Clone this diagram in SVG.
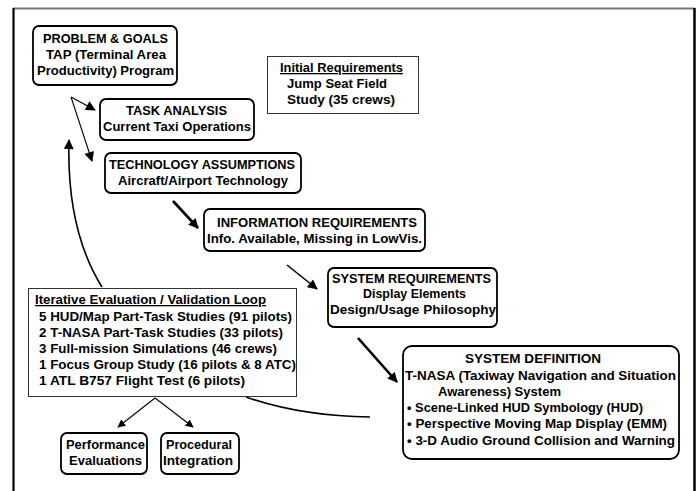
<svg xmlns="http://www.w3.org/2000/svg" width="698" height="491" viewBox="0 0 698 491">
<style>
text{font-family:"Liberation Sans",Arial,sans-serif;font-weight:bold;font-size:13px;fill:#000}
.rb{fill:#fff;stroke:#000;stroke-width:1.8}
.sb{fill:#fff;stroke:#333;stroke-width:1}
.thin{fill:none;stroke:#000;stroke-width:1.1}
.thick{fill:none;stroke:#000;stroke-width:2.6}
.mid{fill:none;stroke:#000;stroke-width:1.6}
</style>
<defs>
<marker id="ah" viewBox="0 0 10 10" refX="9" refY="5" markerWidth="11" markerHeight="10" markerUnits="userSpaceOnUse" orient="auto"><path d="M0,0 L10,5 L0,10 z" fill="#000"/></marker>
<marker id="ahs" viewBox="0 0 10 10" refX="9" refY="5" markerWidth="8" markerHeight="8" markerUnits="userSpaceOnUse" orient="auto"><path d="M0,0 L10,5 L0,10 z" fill="#000"/></marker>
</defs>
<rect width="698" height="491" fill="#fff"/>
<g id="frame">
<line x1="13" y1="8.5" x2="695" y2="8.5" stroke="#777" stroke-width="2"/>
<line x1="13.5" y1="8" x2="13.5" y2="491" stroke="#000" stroke-width="2.2"/>
<line x1="694.5" y1="8" x2="694.5" y2="491" stroke="#000" stroke-width="2.5"/>
</g>
<g id="connectors">
<path class="thin" d="M71,97 L95,110" marker-end="url(#ah)"/>
<path class="thin" d="M71,97 L92,161" marker-end="url(#ah)"/>
<path class="thick" d="M173,201 L198,228" marker-end="url(#ah)"/>
<path class="mid" d="M287,265 L317,289" marker-end="url(#ah)"/>
<path class="thick" d="M358,338 L397,382" marker-end="url(#ah)"/>
<path class="mid" d="M102,287 C82,255 67,210 69,140" marker-end="url(#ah)"/>
<path class="mid" d="M246,397 Q300,416 370,417"/>
<path class="thin" d="M155,398 L118,427" marker-end="url(#ahs)"/>
<path class="thin" d="M155,398 L193,427" marker-end="url(#ahs)"/>
</g>
<g id="problem">
<rect class="rb" x="33" y="26" width="144" height="59" rx="6"/>
<text x="43" y="43" textLength="125" lengthAdjust="spacingAndGlyphs">PROBLEM &amp; GOALS</text>
<text x="46" y="59" textLength="120" lengthAdjust="spacingAndGlyphs">TAP (Terminal Area</text>
<text x="37" y="75" textLength="137" lengthAdjust="spacingAndGlyphs">Productivity) Program</text>
</g>
<g id="initial">
<rect class="sb" x="267.5" y="56.5" width="151" height="57"/>
<text x="280" y="72" textLength="123" lengthAdjust="spacingAndGlyphs" text-decoration="underline">Initial Requirements</text>
<text x="287" y="88" textLength="100" lengthAdjust="spacingAndGlyphs">Jump Seat Field</text>
<text x="287" y="104" textLength="108" lengthAdjust="spacingAndGlyphs">Study (35 crews)</text>
</g>
<g id="task">
<rect class="rb" x="100" y="99" width="154" height="41" rx="6"/>
<text x="126" y="115" textLength="101" lengthAdjust="spacingAndGlyphs">TASK ANALYSIS</text>
<text x="103" y="131" textLength="148" lengthAdjust="spacingAndGlyphs">Current Taxi Operations</text>
</g>
<g id="tech">
<rect class="rb" x="105" y="153" width="196" height="40" rx="6"/>
<text x="109" y="169" textLength="186" lengthAdjust="spacingAndGlyphs">TECHNOLOGY ASSUMPTIONS</text>
<text x="118" y="185" textLength="170" lengthAdjust="spacingAndGlyphs">Aircraft/Airport Technology</text>
</g>
<g id="info">
<rect class="rb" x="204" y="209" width="221" height="42" rx="6"/>
<text x="217" y="227" textLength="200" lengthAdjust="spacingAndGlyphs">INFORMATION REQUIREMENTS</text>
<text x="207" y="243" textLength="215" lengthAdjust="spacingAndGlyphs">Info. Available, Missing in LowVis.</text>
</g>
<g id="sysreq">
<rect class="rb" x="328" y="268" width="169" height="59" rx="6"/>
<text x="332" y="283" textLength="159" lengthAdjust="spacingAndGlyphs">SYSTEM REQUIREMENTS</text>
<text x="363" y="298" textLength="103" lengthAdjust="spacingAndGlyphs">Display Elements</text>
<text x="330" y="314" textLength="166" lengthAdjust="spacingAndGlyphs">Design/Usage Philosophy</text>
</g>
<g id="sysdef">
<rect class="rb" x="403" y="346" width="276" height="113" rx="9"/>
<text x="465" y="363" textLength="136" lengthAdjust="spacingAndGlyphs">SYSTEM DEFINITION</text>
<text x="405" y="380" textLength="271" lengthAdjust="spacingAndGlyphs">T-NASA (Taxiway Navigation and Situation</text>
<text x="438" y="396" textLength="123" lengthAdjust="spacingAndGlyphs">Awareness) System</text>
<text x="407" y="412" textLength="236" lengthAdjust="spacingAndGlyphs">•  Scene-Linked HUD Symbology (HUD)</text>
<text x="407" y="428" textLength="260" lengthAdjust="spacingAndGlyphs">•  Perspective Moving Map Display (EMM)</text>
<text x="407" y="445" textLength="268" lengthAdjust="spacingAndGlyphs">•  3-D Audio Ground Collision and Warning</text>
</g>
<g id="iterative">
<rect class="sb" x="28.5" y="288.5" width="268" height="108"/>
<text x="35" y="304" textLength="231" lengthAdjust="spacingAndGlyphs" text-decoration="underline">Iterative Evaluation / Validation Loop</text>
<text x="39" y="321" textLength="253" lengthAdjust="spacingAndGlyphs">5 HUD/Map Part-Task Studies (91 pilots)</text>
<text x="39" y="337" textLength="244" lengthAdjust="spacingAndGlyphs">2 T-NASA Part-Task Studies (33 pilots)</text>
<text x="39" y="353" textLength="238" lengthAdjust="spacingAndGlyphs">3 Full-mission Simulations (46 crews)</text>
<text x="39" y="369" textLength="257" lengthAdjust="spacingAndGlyphs">1 Focus Group Study (16 pilots &amp; 8 ATC)</text>
<text x="39" y="385" textLength="206" lengthAdjust="spacingAndGlyphs">1 ATL B757 Flight Test (6 pilots)</text>
</g>
<g id="performance">
<rect class="rb" x="61" y="433" width="86" height="41" rx="6"/>
<text x="66" y="449" textLength="79" lengthAdjust="spacingAndGlyphs">Performance</text>
<text x="69" y="465" textLength="73" lengthAdjust="spacingAndGlyphs">Evaluations</text>
</g>
<g id="procedural">
<rect class="rb" x="161" y="433" width="78" height="41" rx="6"/>
<text x="166" y="449" textLength="66" lengthAdjust="spacingAndGlyphs">Procedural</text>
<text x="163" y="465" textLength="70" lengthAdjust="spacingAndGlyphs">Integration</text>
</g>
</svg>
